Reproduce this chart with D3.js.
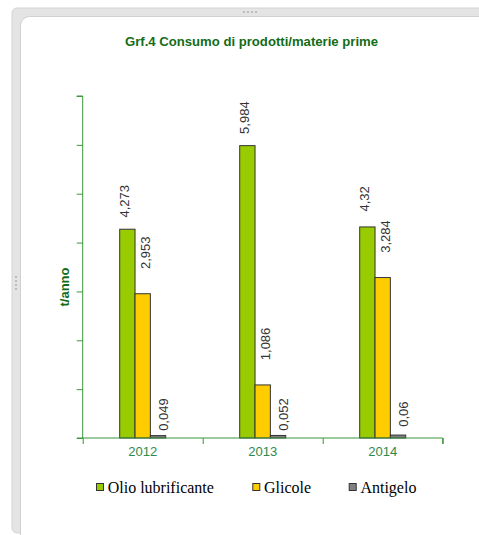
<!DOCTYPE html>
<html>
<head>
<meta charset="utf-8">
<script src="https://cdn.jsdelivr.net/npm/d3@7"></script>
<style>
    body { margin: 0; background: #fff; }
    svg { display: block; }
</style>
</head>
<body>
<svg class="chart"></svg>
<script>
const years = [`2012`, `2013`, `2014`];
const seriesNames = [`Olio lubrificante`, `Glicole`, `Antigelo`];
const olio = [4.273, 5.984, 4.32];
const glicole = [2.953, 1.086, 3.284];
const antigelo = [0.049, 0.052, 0.06];
const labels = [
    [`4,273`, `5,984`, `4,32`],
    [`2,953`, `1,086`, `3,284`],
    [`0,049`, `0,052`, `0,06`]
];
const yTicks = [0, 1, 2, 3, 4, 5, 6, 7];

const values = [olio, glicole, antigelo];
const colors = [`#99cc00`, `#ffcc00`, `#808080`];
// label nudges per series, as in the original (labels were not centred on bars)
const labelDx = [2, 7, 10];
const labelLift = [28, 41, 21];

const width = 479;
const height = 535;
const axisGreen = `#3c963c`;

const svg = d3.select(`.chart`)
    .attr(`width`, width)
    .attr(`height`, height);

// window-like frame
svg.append(`rect`)
    .attr(`x`, 12).attr(`y`, 8)
    .attr(`width`, 500).attr(`height`, 525)
    .attr(`rx`, 5)
    .attr(`fill`, `#e4e4e4`)
    .attr(`stroke`, `#d4d4d4`);
svg.append(`rect`)
    .attr(`x`, 20.5).attr(`y`, 16.5)
    .attr(`width`, 500).attr(`height`, 540)
    .attr(`rx`, 9)
    .attr(`fill`, `#fff`)
    .attr(`stroke`, `#d0d0d0`);
[[243, 11], [247, 11], [251, 11], [255, 11]].forEach(p => {
    svg.append(`rect`).attr(`x`, p[0]).attr(`y`, p[1]).attr(`width`, 2).attr(`height`, 2).attr(`fill`, `#bdbdbd`);
});
[[15, 276], [15, 280], [15, 284], [15, 288]].forEach(p => {
    svg.append(`rect`).attr(`x`, p[0]).attr(`y`, p[1]).attr(`width`, 2).attr(`height`, 2).attr(`fill`, `#bdbdbd`);
});

const xScale = d3.scaleBand()
    .domain(years)
    .range([82.7, 442.7]);

const xInner = d3.scaleBand()
    .domain(d3.range(seriesNames.length))
    .range([0, 46]);

const yScale = d3.scaleLinear()
    .domain([0, 7])
    .range([438, 96]);

// title
svg.append(`text`)
    .attr(`x`, 251.5)
    .attr(`y`, 46)
    .attr(`text-anchor`, `middle`)
    .attr(`font-family`, `Liberation Sans, Arial, sans-serif`)
    .attr(`font-weight`, `bold`)
    .attr(`font-size`, 13)
    .attr(`textLength`, 253)
    .attr(`lengthAdjust`, `spacingAndGlyphs`)
    .attr(`fill`, `#136c18`)
    .text(`Grf.4 Consumo di prodotti/materie prime`);

// y axis title
svg.append(`text`)
    .attr(`transform`, `translate(69, 287) rotate(-90)`)
    .attr(`text-anchor`, `middle`)
    .attr(`font-family`, `Liberation Sans, Arial, sans-serif`)
    .attr(`font-weight`, `bold`)
    .attr(`font-size`, 13)
    .attr(`fill`, `#136c18`)
    .text(`t/anno`);

// bars
const groups = svg.selectAll(`.grp`)
    .data(years)
    .enter()
    .append(`g`)
    .attr(`class`, `grp`)
    .attr(`transform`, d => `translate(${xScale(d) + xScale.bandwidth() / 2 - 23}, 0)`);

groups.selectAll(`rect`)
    .data((d, i) => values.map((s, k) => ({ k, v: s[i], label: labels[k][i] })))
    .enter()
    .append(`rect`)
    .attr(`x`, d => xInner(d.k))
    .attr(`y`, d => yScale(d.v))
    .attr(`width`, xInner.bandwidth())
    .attr(`height`, d => yScale(0) - yScale(d.v))
    .attr(`fill`, d => colors[d.k])
    .attr(`stroke`, `#333`)
    .attr(`stroke-width`, 1);

groups.selectAll(`.lbl`)
    .data((d, i) => values.map((s, k) => ({ k, v: s[i], label: labels[k][i] })))
    .enter()
    .append(`text`)
    .attr(`class`, `lbl`)
    .attr(`transform`, d => `translate(${xInner(d.k) + xInner.bandwidth() / 2 + labelDx[d.k]}, ${yScale(d.v) - labelLift[d.k]}) rotate(-90)`)
    .attr(`text-anchor`, `middle`)
    .attr(`font-family`, `Liberation Sans, Arial, sans-serif`)
    .attr(`font-size`, 13)
    .attr(`fill`, `#333`)
    .text(d => d.label);

// y axis
const yAxis = svg.append(`g`)
    .attr(`transform`, `translate(82.7, 0)`)
    .call(d3.axisLeft(yScale).tickValues(yTicks).tickSize(6).tickFormat(``));
yAxis.selectAll(`path, line`).attr(`stroke`, axisGreen);
yAxis.select(`.domain`).attr(`d`, `M-6,96H0V438`);

// x axis
const xLinear = d3.scaleLinear().domain([0, 3]).range([82.7, 442.7]);
const xAxis = svg.append(`g`)
    .attr(`transform`, `translate(0, 438)`)
    .call(d3.axisBottom(xLinear).tickValues([0, 1, 2, 3]).tickSize(6).tickFormat(``));
xAxis.selectAll(`path, line`).attr(`stroke`, axisGreen);
xAxis.select(`.domain`).attr(`d`, `M77,0H442.7V6`);

svg.selectAll(`.yr`)
    .data(years)
    .enter()
    .append(`text`)
    .attr(`class`, `yr`)
    .attr(`x`, d => xScale(d) + xScale.bandwidth() / 2)
    .attr(`y`, 456)
    .attr(`text-anchor`, `middle`)
    .attr(`font-family`, `Liberation Sans, Arial, sans-serif`)
    .attr(`font-size`, 13)
    .attr(`fill`, `#2e8a4c`)
    .text(d => d);

// legend
const legendX = [96, 252.3, 348.7];
const legend = svg.selectAll(`.leg`)
    .data(seriesNames)
    .enter()
    .append(`g`)
    .attr(`class`, `leg`)
    .attr(`transform`, (d, i) => `translate(${legendX[i]}, 483)`);
legend.append(`rect`)
    .attr(`x`, 0.5).attr(`y`, 0.5)
    .attr(`width`, 7).attr(`height`, 7)
    .attr(`fill`, (d, i) => colors[i])
    .attr(`stroke`, `#333`);
legend.append(`text`)
    .attr(`x`, 11.7)
    .attr(`y`, 9.5)
    .attr(`font-family`, `Liberation Serif, Times New Roman, serif`)
    .attr(`font-size`, 16)
    .attr(`fill`, `#000`)
    .text(d => d);
</script>
</body>
</html>
